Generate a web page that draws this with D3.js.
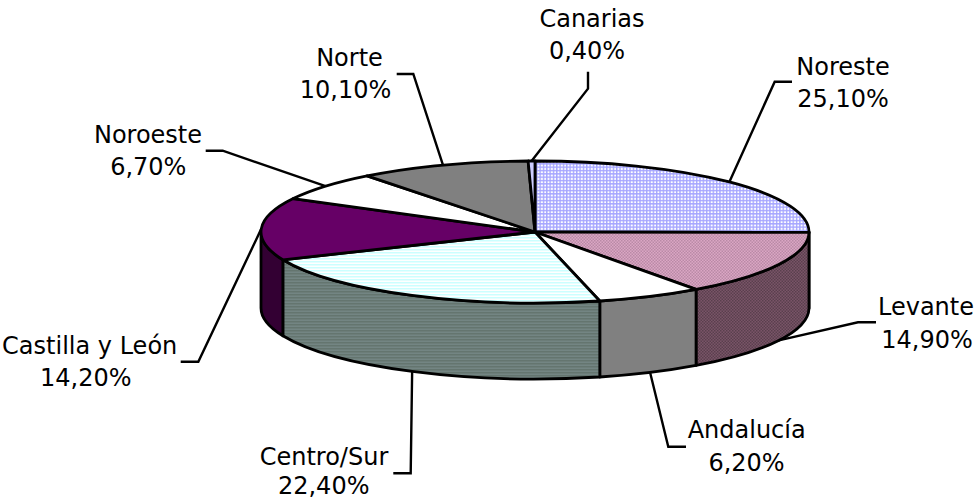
<!DOCTYPE html>
<html lang="es">
<head>
<meta charset="utf-8">
<script src="https://cdn.jsdelivr.net/npm/d3@7/dist/d3.min.js"></script>
<style>html,body{margin:0;padding:0;background:#fff}svg{display:block}text{font-family:"DejaVu Sans",sans-serif;font-size:24px;fill:#000}</style>
</head>
<body>
<svg id="c" width="976" height="500"></svg>
<script>
// Data
const categories = ["Noreste","Levante","Andalucía","Centro/Sur","Castilla y León","Noroeste","Norte","Canarias"];
const shareValues = [25.1,14.9,6.2,22.4,14.2,6.7,10.1,0.4];
const valueLabels = ["25,10%","14,90%","6,20%","22,40%","14,20%","6,70%","10,10%","0,40%"];

// Layout and styling, kept apart from the data
const cx = 535, cy = 232, rx = 274, ry = 71, depth = 76;
const labelPos = [
  {n:[843,75],   v:[843,106.7], elbow:[774.7,81.7], tail:[792,81.7]},
  {n:[926,315],  v:[927,347.7], elbow:[858,322.3],  tail:[876,322.3]},
  {n:[746.7,438],v:[746.5,470.7],elbow:[668.3,446.7],tail:[686,446.7]},
  {n:[324,465],  v:[323.7,494.3],elbow:[410.7,473.3],tail:[393.3,473.3]},
  {n:[89.7,354], v:[85.8,386],  elbow:[198.3,361.7],tail:[180.7,361.7]},
  {n:[148,143.3],v:[148.3,175], elbow:[222.7,150.7],tail:[205.7,150.7]},
  {n:[349.5,66], v:[345.5,97.7],elbow:[413.3,74],   tail:[396.7,74]},
  {n:[592,26.7], v:[587,59],    elbow:[588,88.7],   tail:[588,71.7]}
];
const topFills = ["url(#pBlue)","url(#pPink)","#ffffff","url(#pCyan)","#660066","#ffffff","#808080","#ccccff"];
const sideFills = ["#6a6a85","url(#pPinkDark)","#808080","url(#pTeal)","#330033","#808080","#404040","#666680"];

const svg = d3.select("#c");
const defs = svg.append("defs");
function pattern(id,w,h,bg,draw){
  const p = defs.append("pattern").attr("id",id).attr("patternUnits","userSpaceOnUse").attr("width",w).attr("height",h);
  p.append("rect").attr("width",w).attr("height",h).attr("fill",bg);
  draw(p);
}
const r = (p,x,y,w,h,f)=>p.append("rect").attr("x",x).attr("y",y).attr("width",w).attr("height",h).attr("fill",f);
pattern("pBlue",3.33,3.33,"#ffffff",p=>{r(p,0,0,1.4,3.33,"#a6a6ff");r(p,0,0,3.33,1.4,"#a6a6ff");});
pattern("pPink",3,3,"#dba6c4",p=>{r(p,0,0,1.5,1.5,"#b98aa6");r(p,1.5,1.5,1.5,1.5,"#b98aa6");});
pattern("pPinkDark",3,3,"#7a5468",p=>{r(p,0,0,1.5,1.5,"#59404d");r(p,1.5,1.5,1.5,1.5,"#59404d");});
pattern("pCyan",3,3,"#ffffff",p=>{r(p,0,0,3,1.5,"#ccffff");});
pattern("pTeal",3,3,"#738583",p=>{r(p,0,0,3,1.5,"#64756f");});

const sx = d3.scaleLinear().domain([-1,1]).range([cx-rx,cx+rx]);
const sy = d3.scaleLinear().domain([-1,1]).range([cy-ry,cy+ry]);
const ex = a => sx(Math.sin(a));
const ey = a => sy(-Math.cos(a));

const arcs = d3.pie().sort(null).startAngle(0).endAngle(2*Math.PI)(shareValues);

function topPath(a0,a1){
  const large = a1-a0>Math.PI?1:0;
  return `M${cx},${cy}L${ex(a0)},${ey(a0)}A${rx},${ry} 0 ${large} 1 ${ex(a1)},${ey(a1)}Z`;
}
function sidePath(a0,a1){
  return `M${ex(a0)},${ey(a0)}A${rx},${ry} 0 0 1 ${ex(a1)},${ey(a1)}`+
    `L${ex(a1)},${ey(a1)+depth}A${rx},${ry} 0 0 0 ${ex(a0)},${ey(a0)+depth}Z`;
}

// Leader lines
svg.append("g").selectAll("path").data(arcs).join("path")
  .attr("fill","none").attr("stroke","#000").attr("stroke-width",2.4)
  .attr("d",(d,i)=>{
    const m=(d.startAngle+d.endAngle)/2;
    const front=Math.cos(m)<0;
    const l=labelPos[i];
    return d3.line()([l.tail,l.elbow,[ex(m),ey(m)+(front?depth:0)]]);
  });

// Side wall (front half only)
svg.append("g").selectAll("path")
  .data(arcs.filter(d=>d.endAngle>Math.PI/2 && d.startAngle<3*Math.PI/2))
  .join("path")
  .attr("fill",d=>sideFills[d.index]).attr("stroke","#000").attr("stroke-width",2.8).attr("stroke-linejoin","round")
  .attr("d",d=>sidePath(Math.max(d.startAngle,Math.PI/2),Math.min(d.endAngle,3*Math.PI/2)));

// Top face
svg.append("g").selectAll("path").data(arcs).join("path")
  .attr("fill",d=>topFills[d.index]).attr("stroke","#000").attr("stroke-width",2.8).attr("stroke-linejoin","round")
  .attr("d",d=>topPath(d.startAngle,d.endAngle));

// Labels
const lab = svg.append("g").attr("text-anchor","middle");
categories.forEach((c,i)=>{
  lab.append("text").attr("x",labelPos[i].n[0]).attr("y",labelPos[i].n[1]).text(c);
  lab.append("text").attr("x",labelPos[i].v[0]).attr("y",labelPos[i].v[1]).text(valueLabels[i]);
});
</script>
</body>
</html>
